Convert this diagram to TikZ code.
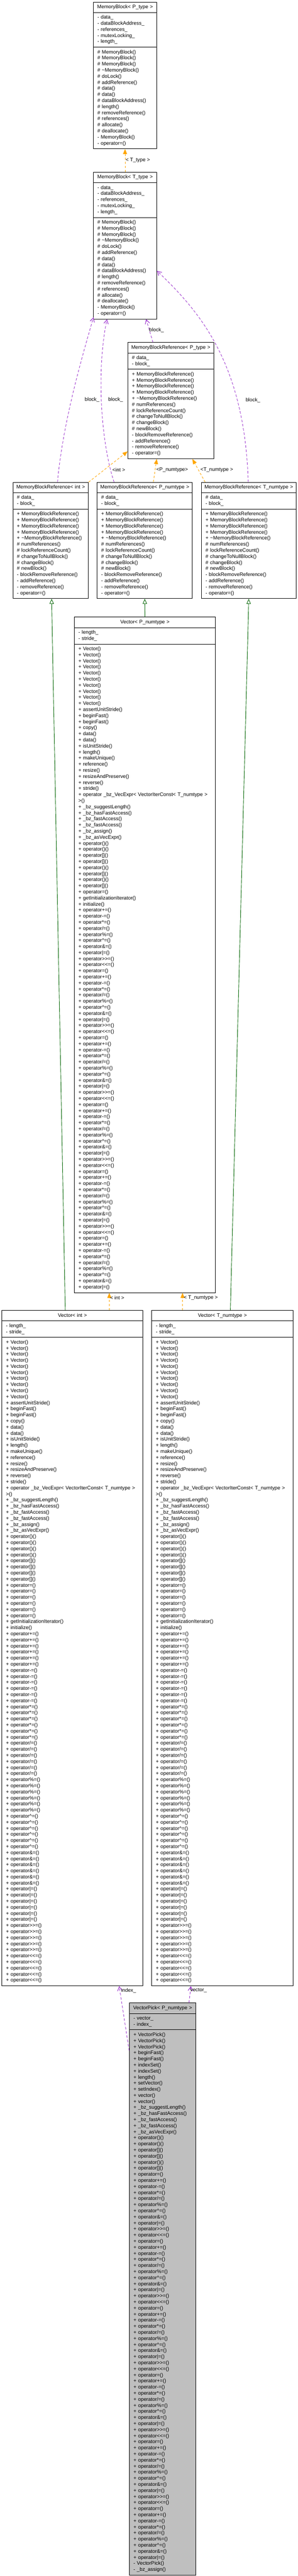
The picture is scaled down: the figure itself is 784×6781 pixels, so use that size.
\documentclass[tikz,border=0pt]{standalone}
\usepackage{fontspec}
\setmainfont{Liberation Sans}
\usetikzlibrary{shapes.multipart,arrows.meta,calc}

\definecolor{dxorange}{HTML}{FFA500}
\definecolor{dxpurple}{HTML}{9A32CD}
\definecolor{dxgreen}{HTML}{006400}
\definecolor{pickgray}{HTML}{BFBFBF}

\tikzset{
  classbox/.style={rectangle split, rectangle split parts=3, draw, line width=1pt,
    fill=white, anchor=north, inner xsep=8pt, inner ysep=3.75pt, align=left,
    font=\fontsize{10pt}{12pt}\selectfont},
  lbl/.style={anchor=west, inner sep=0pt, font=\fontsize{10pt}{12pt}\selectfont},
  tmpl/.style={draw=dxorange, line width=0.9pt, dash pattern=on 4.5pt off 3.5pt,
    -{Triangle[length=10pt,width=8pt]}},
  usage/.style={draw=dxpurple, line width=0.9pt, dash pattern=on 5pt off 3.5pt,
    -{Straight Barb[length=8pt,width=9pt,line width=1.1pt]}},
  inherit/.style={draw=dxgreen, line width=0.9pt, -{Triangle[open,length=10pt,width=8.5pt]}}
}

\newcommand\nrep[2]{#2\ifnum#1>1 \\\expandafter\nrep\expandafter{\the\numexpr#1-1\relax}{#2}\fi}
\newcommand\vop[1]{+ operator#1()}
\newcommand\opsgt{>\kern0pt>=}
\newcommand\opslt{<\kern0pt<=}

\newcommand\umlclass[7][]{%
  \node[classbox, text width=#5*0.75pt-16pt, #1] (#2) at (#3)
    {\hbox to\hsize{\hss\strut#4\hss}\nodepart{second}\strut#6\strut\nodepart{third}\strut#7\strut};}

\newcommand\mbattr{- data\_\\- dataBlockAddress\_\\- references\_\\- mutexLocking\_\\- length\_}
\newcommand\mbops{\nrep{3}{\# MemoryBlock()}\\\# \textasciitilde MemoryBlock()\\\# doLock()\\\# addReference()\\\nrep{2}{\# data()}\\\# dataBlockAddress()\\\# length()\\\# removeReference()\\\# references()\\\# allocate()\\\# deallocate()\\- MemoryBlock()\\- operator=()}
\newcommand\mbrattr{\# data\_\\- block\_}
\newcommand\mbrops{\nrep{4}{+ MemoryBlockReference()}\\+ \textasciitilde MemoryBlockReference()\\\# numReferences()\\\# lockReferenceCount()\\\# changeToNullBlock()\\\# changeBlock()\\\# newBlock()\\- blockRemoveReference()\\- addReference()\\- removeReference()\\- operator=()}
\newcommand\vecattr{- length\_\\- stride\_}
\newcommand\vechead{\nrep{10}{+ Vector()}\\+ assertUnitStride()\\\nrep{2}{+ beginFast()}\\+ copy()\\\nrep{2}{+ data()}\\+ isUnitStride()\\+ length()\\+ makeUnique()\\+ reference()\\+ resize()\\+ resizeAndPreserve()\\+ reverse()\\+ stride()\\+ operator \_bz\_VecExpr< VectorIterConst< T\_numtype > >()\\+ \_bz\_suggestLength()\\+ \_bz\_hasFastAccess()\\\nrep{2}{+ \_bz\_fastAccess()}\\+ \_bz\_assign()\\+ \_bz\_asVecExpr()}
\newcommand\opseight{\vop{+=}\\\vop{-=}\\\vop{*=}\\\vop{/=}\\\vop{\%=}\\\vop{\textasciicircum=}\\\vop{\&=}\\\vop{|=}}
\newcommand\opsten{\opseight\\\vop{\opsgt}\\\vop{\opslt}}
\newcommand\opstail{\opsten\\\vop{=}\\\opsten\\\vop{=}\\\opsten\\\vop{=}\\\opsten\\\vop{=}\\\opsten\\\vop{=}\\\opseight}
\newcommand\vecmixed{\nrep{2}{\vop{()}}\\\nrep{2}{\vop{[]}}\\\vop{()}\\\vop{[]}\\\vop{()}\\\vop{[]}\\\vop{=}\\+ getInitializationIterator()\\+ initialize()\\\opstail}
\newcommand\vecsorted{\nrep{4}{\vop{()}}\\\nrep{4}{\vop{[]}}\\\nrep{6}{\vop{=}}\\+ getInitializationIterator()\\+ initialize()\\\nrep{6}{\vop{+=}}\\\nrep{6}{\vop{-=}}\\\nrep{6}{\vop{*=}}\\\nrep{6}{\vop{/=}}\\\nrep{6}{\vop{\%=}}\\\nrep{6}{\vop{\textasciicircum=}}\\\nrep{6}{\vop{\&=}}\\\nrep{6}{\vop{|=}}\\\nrep{5}{\vop{\opsgt}}\\\nrep{5}{\vop{\opslt}}}
\newcommand\pickattr{- vector\_\\- index\_}
\newcommand\pickops{\nrep{3}{+ VectorPick()}\\\nrep{2}{+ beginFast()}\\\nrep{2}{+ indexSet()}\\+ length()\\+ setVector()\\+ setIndex()\\\nrep{2}{+ vector()}\\+ \_bz\_suggestLength()\\+ \_bz\_hasFastAccess()\\\nrep{2}{+ \_bz\_fastAccess()}\\+ \_bz\_asVecExpr()\\\nrep{2}{\vop{()}}\\\nrep{2}{\vop{[]}}\\\vop{()}\\\vop{[]}\\\vop{=}\\\opstail\\- VectorPick()\\- \_bz\_assign()}

\begin{document}
\begin{tikzpicture}[x=0.75pt,y=-0.75pt]
\useasboundingbox (0,0) rectangle (784,6781);

\umlclass{mbP}{329.5,5}{MemoryBlock< P\_type >}{167}{\mbattr}{\mbops}
\umlclass{mbT}{329.5,453}{MemoryBlock< T\_type >}{167}{\mbattr}{\mbops}
\umlclass{mbrP}{450,901}{MemoryBlockReference< P\_type >}{226}{\mbrattr}{\mbrops}
\umlclass{mbrInt}{133.5,1269}{MemoryBlockReference< int >}{199}{\mbrattr}{\mbrops}
\umlclass{mbrPn}{381.5,1269}{MemoryBlockReference< P\_numtype >}{251}{\mbrattr}{\mbrops}
\umlclass{mbrTn}{655.5,1269}{MemoryBlockReference< T\_numtype >}{249}{\mbrattr}{\mbrops}
\umlclass{vecPn}{382,1624}{Vector< P\_numtype >}{372}{\vecattr}{\vechead\\\vecmixed}
\umlclass{vecInt}{191,3449}{Vector< int >}{372}{\vecattr}{\vechead\\\vecsorted}
\umlclass{vecTn}{586,3449}{Vector< T\_numtype >}{372}{\vecattr}{\vechead\\\vecsorted}
\umlclass[fill=pickgray]{vpick}{428.5,5272}{VectorPick< P\_numtype >}{175}{\pickattr}{\pickops}

\draw[tmpl] (mbT.north) -- (mbP.south);
\draw[usage] ($(mbrInt.north)+(18,0)$) .. controls (165,1120) and (210,960) .. ($(mbT.south west)+(1,-5)$);
\draw[usage] ($(mbrPn.north)+(-81,0)$) .. controls (262,1150) and (256,960) .. ($(mbT.south)+(-47.5,0)$);
\draw[usage] ($(mbrP.north)+(-47,0)$) -- ($(mbT.south)+(55.5,0)$);
\draw[usage] ($(mbrTn.north)+(-1.5,0)$) .. controls (645,950) and (520,815) .. ($(mbT.north east)+(0,260)$);
\draw[tmpl] (mbrInt.north east) -- ($(mbrP.south west)+(0,-20)$);
\draw[tmpl] ($(mbrPn.north)+(22.5,0)$) -- ($(mbrP.south)+(-37,0)$);
\draw[tmpl] ($(mbrTn.north)+(-115,0)$) -- ($(mbrP.south)+(57,0)$);
\draw[inherit] (vecPn.north) -- (mbrPn.south);
\draw[inherit] ($(vecInt.north)+(-19,0)$) -- ($(mbrInt.south)+(2.5,0)$);
\draw[inherit] ($(vecTn.north)+(21,0)$) -- (mbrTn.south);
\draw[tmpl] ($(vecInt.north)+(97,0)$) -- ($(vecPn.south)+(-94,0)$);
\draw[tmpl] ($(vecTn.north)+(-105,0)$) -- ($(vecPn.south)+(99,0)$);
\draw[usage] ($(vpick.north west)+(0,126)$) -- ($(vecInt.south)+(123,0)$);
\draw[usage] ($(vpick.north)+(69.5,0)$) -- ($(vecTn.south)+(-83,0)$);

\node[lbl] (lTtype) at (331,422) {< T\_type >};
\node[lbl] (lBlockA) at (223,1052) {block\_};
\node[lbl] (lBlockB) at (285,1052) {block\_};
\node[lbl] (lBlockC) at (393,869) {block\_};
\node[lbl] (lBlockD) at (647,1053) {block\_};
\node[lbl] (lInt) at (296,1237) {<int >};
\node[lbl] (lPn) at (412,1237) {<P\_numtype>};
\node[lbl] (lTn) at (528,1237) {<T\_numtype >};
\node[lbl] (lVInt) at (290,3416) {< int >};
\node[lbl] (lVTn) at (484,3416) {< T\_numtype >};
\node[lbl] (lIndex) at (319,5240) {index\_};
\node[lbl] (lVector) at (501,5240) {vector\_};
\end{tikzpicture}
\end{document}
